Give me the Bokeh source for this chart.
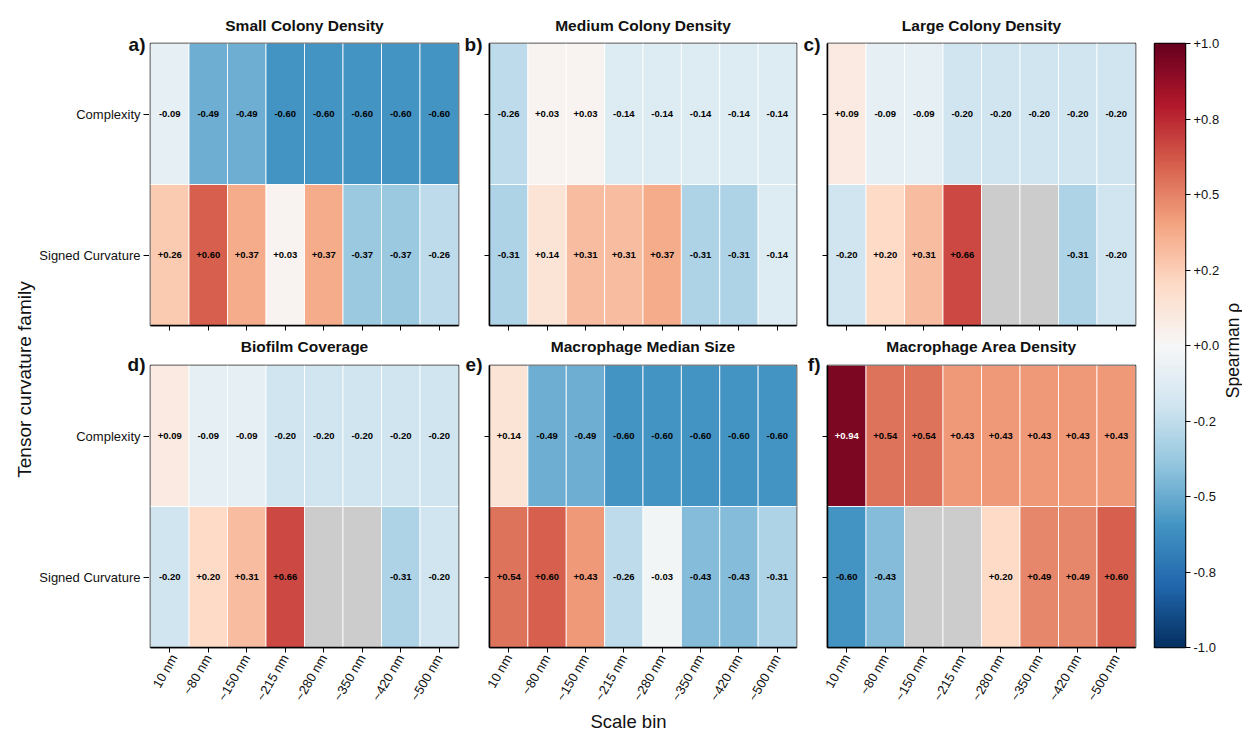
import math
import numpy as np
from bokeh.plotting import figure
from bokeh.layouts import row, column
from bokeh.models import (ColumnDataSource, LinearColorMapper, FixedTicker,
                          Label, Range1d)
from bokeh.embed import file_html
from bokeh.resources import INLINE
from bokeh.core.properties import value

# ---------------------------------------------------------------- data
scale_bins = ["10 nm", "~80 nm", "~150 nm", "~215 nm",
              "~280 nm", "~350 nm", "~420 nm", "~500 nm"]
families = ["Complexity", "Signed Curvature"]
nan = np.nan

small_colony_complexity = [-0.09, -0.49, -0.49, -0.60, -0.60, -0.60, -0.60, -0.60]
small_colony_signed = [0.26, 0.60, 0.37, 0.03, 0.37, -0.37, -0.37, -0.26]

medium_colony_complexity = [-0.26, 0.03, 0.03, -0.14, -0.14, -0.14, -0.14, -0.14]
medium_colony_signed = [-0.31, 0.14, 0.31, 0.31, 0.37, -0.31, -0.31, -0.14]

large_colony_complexity = [0.09, -0.09, -0.09, -0.20, -0.20, -0.20, -0.20, -0.20]
large_colony_signed = [-0.20, 0.20, 0.31, 0.66, nan, nan, -0.31, -0.20]

biofilm_complexity = [0.09, -0.09, -0.09, -0.20, -0.20, -0.20, -0.20, -0.20]
biofilm_signed = [-0.20, 0.20, 0.31, 0.66, nan, nan, -0.31, -0.20]

macro_size_complexity = [0.14, -0.49, -0.49, -0.60, -0.60, -0.60, -0.60, -0.60]
macro_size_signed = [0.54, 0.60, 0.43, -0.26, -0.03, -0.43, -0.43, -0.31]

macro_area_complexity = [0.94, 0.54, 0.54, 0.43, 0.43, 0.43, 0.43, 0.43]
macro_area_signed = [-0.60, -0.43, nan, nan, 0.20, 0.49, 0.49, 0.60]

panel_letters = ["a)", "b)", "c)", "d)", "e)", "f)"]
panel_titles = ["Small Colony Density", "Medium Colony Density",
                "Large Colony Density", "Biofilm Coverage",
                "Macrophage Median Size", "Macrophage Area Density"]
panel_values = [
    (small_colony_complexity, small_colony_signed),
    (medium_colony_complexity, medium_colony_signed),
    (large_colony_complexity, large_colony_signed),
    (biofilm_complexity, biofilm_signed),
    (macro_size_complexity, macro_size_signed),
    (macro_area_complexity, macro_area_signed),
]

cbar_ticks = [-1.0, -0.75, -0.5, -0.25, 0.0, 0.25, 0.5, 0.75, 1.0]
cbar_tick_text = ["-1.0", "-0.8", "-0.5", "-0.2", "+0.0", "+0.2", "+0.5", "+0.8", "+1.0"]

# ---------------------------------------------------------------- style
FONT = "Liberation Sans"
INK = "#111111"
rdbu_r_anchors = ["#053061", "#2166ac", "#4393c3", "#92c5de", "#d1e5f0", "#f7f7f7",
                  "#fddbc7", "#f4a582", "#d6604d", "#b2182b", "#67001f"]


def smooth_palette(anchors, n=256):
    rgb = np.array([[int(h[i:i + 2], 16) for i in (1, 3, 5)] for h in anchors], float)
    pos = np.linspace(0, 1, len(anchors))
    t = np.linspace(0, 1, n)
    chans = [np.interp(t, pos, rgb[:, k]) for k in range(3)]
    return ["#%02x%02x%02x" % tuple(int(round(c[i])) for c in chans) for i in range(n)]


mapper = LinearColorMapper(palette=smooth_palette(rdbu_r_anchors), low=-1, high=1,
                           nan_color="#cccccc")

# ---------------------------------------------------------------- geometry (px)
TOTAL_H = 730
FRAME_H = 282
UNIT_PX = FRAME_H / len(families)
YLAB_W = 36           # strip holding the shared y label
AXIS_W = 113          # category axis column left of the first panel column
GAP_W = 23            # strip between panel columns holding the panel letter
COLS = [(1, 308, 2), (6, 307, 2), (6, 308, 2)]   # border_left, frame, border_right
TITLE_H = [41, 26]    # title strip per panel row
BORDER_TOP = 2
BOTTOM_B = [12, 62]
ROW_H = [TITLE_H[r] + BORDER_TOP + FRAME_H + BOTTOM_B[r] for r in range(2)]
TITLE_Y = [25, 9]     # title centre, from top of its strip
LETTER_H = [55, 40]   # letter cell above the category axis
LETTER_Y = [44, 27]   # letter centre, from top of the row
SCALE_H = TOTAL_H - sum(ROW_H)
CB_BORDERS = (17, 31, 37)
SPEAR_W = 20


def free_frame(fig):
    # keep a figure's frame independent from its neighbours in a layout
    if "frame_align" in fig.properties():
        fig.frame_align = False
    return fig


def text_strip(width, height):
    s = figure(width=width, height=height, x_range=Range1d(0, width),
               y_range=Range1d(0, height), min_border=0,
               output_backend="svg", toolbar_location=None)
    s.axis.visible = False
    s.grid.grid_line_color = None
    s.outline_line_color = None
    s.background_fill_color = None
    return free_frame(s)


def put_text(s, x, y_top, text, size, bold=False, align="center", angle=0.0):
    s.add_layout(Label(x=x, y=s.height - y_top, text=text, angle=angle,
                       text_font=FONT, text_font_size=size,
                       text_font_style="bold" if bold else "normal",
                       text_color=INK, text_align=align, text_baseline="middle"))


def tick_style(ax, show_labels, factors=()):
    ax.axis_line_color = "black"
    ax.axis_line_width = 1.5
    ax.major_tick_line_color = "black"
    ax.major_tick_line_width = 1
    ax.major_tick_out = 5
    ax.major_tick_in = 0
    ax.minor_tick_line_color = None
    ax.major_label_text_font = FONT
    ax.major_label_text_color = INK
    ax.major_label_text_font_size = "13px"
    ax.major_label_standoff = 3
    if not show_labels:
        ax.major_label_overrides = {f: "" for f in factors}
        ax.major_label_text_color = None
        ax.major_label_text_font_size = "1px"
        ax.major_label_standoff = 0


def make_panel(idx):
    r, c = divmod(idx, 3)
    bl, fw, br = COLS[c]
    comp, signed = panel_values[idx]
    vals = np.array(list(comp) + list(signed), dtype=float)
    xs = scale_bins * 2
    ys = [families[0]] * len(scale_bins) + [families[1]] * len(scale_bins)
    labels = ["" if np.isnan(v) else "%+.2f" % v for v in vals]
    tcol = ["white" if (not np.isnan(v) and abs(v) > 0.7) else "black" for v in vals]
    src = ColumnDataSource(dict(x=xs, y=ys, v=vals, label=labels, tc=tcol))

    p = figure(x_range=scale_bins, y_range=families[::-1],
               frame_width=fw, frame_height=FRAME_H,
               min_border_left=bl, min_border_right=br,
               min_border_top=BORDER_TOP, min_border_bottom=BOTTOM_B[r],
               output_backend="svg", toolbar_location=None)
    p.rect(x="x", y="y", width=1, height=1, source=src,
           fill_color={"field": "v", "transform": mapper},
           line_color="white", line_width=1, line_alpha=0.85)
    p.text(x="x", y="y", text="label", source=src, text_color="tc",
           text_font=value(FONT), text_font_style="bold", text_font_size="9.5px",
           text_align="center", text_baseline="middle")

    p.grid.grid_line_color = None
    p.outline_line_color = "black"
    p.outline_line_width = 1.5
    p.border_fill_color = "white"

    xa, ya = p.xaxis[0], p.yaxis[0]
    tick_style(xa, show_labels=(r == 1), factors=scale_bins)
    if r == 1:
        xa.major_label_orientation = math.pi / 3
    if c == 0:
        ya.visible = False
    else:
        tick_style(ya, show_labels=False, factors=families)

    strip = text_strip(bl + fw + br, TITLE_H[r])
    put_text(strip, bl + fw / 2, TITLE_Y[r], panel_titles[idx], "15.5px", bold=True)
    return column(row(strip, spacing=0), row(p, spacing=0), spacing=0)


def category_axis(r):
    """Row labels for the left column, on the same 1-unit-per-row scale as the panels."""
    fh = TITLE_H[r] + BORDER_TOP + FRAME_H - LETTER_H[r]
    a = figure(frame_width=1, frame_height=fh,
               min_border_left=AXIS_W - 1, min_border_right=0,
               min_border_top=0, min_border_bottom=BOTTOM_B[r],
               x_range=Range1d(0, 1), y_range=Range1d(0, fh / UNIT_PX),
               output_backend="svg", toolbar_location=None)
    free_frame(a)
    a.xaxis.visible = False
    a.grid.grid_line_color = None
    a.outline_line_color = None
    a.background_fill_color = None
    centres = [i + 0.5 for i in range(len(families))]
    ya = a.yaxis[0]
    tick_style(ya, show_labels=True)
    ya.ticker = FixedTicker(ticks=centres)
    ya.major_label_overrides = dict(zip(centres, families[::-1]))
    ya.axis_line_color = None
    ya.major_tick_in = 1
    letter = text_strip(AXIS_W, LETTER_H[r])
    put_text(letter, AXIS_W - 4, LETTER_Y[r], panel_letters[3 * r], "19px",
             bold=True, align="right")
    return column(row(letter, spacing=0), row(a, spacing=0), spacing=0)


def letter_gap(idx):
    r = idx // 3
    g = text_strip(GAP_W, ROW_H[r])
    put_text(g, GAP_W - 1, LETTER_Y[r], panel_letters[idx], "19px", bold=True, align="right")
    return g


grid_rows = []
for r in range(2):
    items = [category_axis(r)]
    for c in range(3):
        idx = 3 * r + c
        if c > 0:
            items.append(letter_gap(idx))
        items.append(make_panel(idx))
    grid_rows.append(row(*items, spacing=0))

grid_w = AXIS_W + sum(sum(g) for g in COLS) + 2 * GAP_W
scale_strip = text_strip(grid_w, SCALE_H)
put_text(scale_strip, 592, 11, "Scale bin", "18.5px")

# ---------------------------------------------------------------- shared y label
ylab = text_strip(YLAB_W, TOTAL_H)
put_text(ylab, 23.5, 379, "Tensor curvature family", "19px", angle=math.pi / 2)

# ---------------------------------------------------------------- colour bar
cbl, cbw, cbr = CB_BORDERS
cb = figure(x_range=Range1d(0, 1), y_range=Range1d(-1, 1),
            frame_width=cbw, frame_height=604,
            min_border_left=cbl, min_border_right=cbr,
            min_border_top=43, min_border_bottom=83,
            y_axis_location="right", output_backend="svg", toolbar_location=None)
gradient = np.linspace(-1, 1, 256).reshape(256, 1)
cb.image(image=[gradient], x=0, y=-1, dw=1, dh=2, color_mapper=mapper)
cb.xaxis.visible = False
cb.grid.grid_line_color = None
cb.outline_line_color = "black"
cb.outline_line_width = 1.5
cya = cb.yaxis[0]
tick_style(cya, show_labels=True)
cya.ticker = FixedTicker(ticks=cbar_ticks)
cya.major_label_overrides = dict(zip(cbar_ticks, cbar_tick_text))
cya.axis_line_color = None

spear = text_strip(SPEAR_W, TOTAL_H)
put_text(spear, 10, 350, "Spearman ρ", "17.5px", angle=math.pi / 2)

layout = row(ylab, column(*grid_rows, row(scale_strip, spacing=0), spacing=0),
             cb, spear, spacing=0)

with open("out.html", "w") as fh:
    fh.write(file_html(layout, INLINE))
